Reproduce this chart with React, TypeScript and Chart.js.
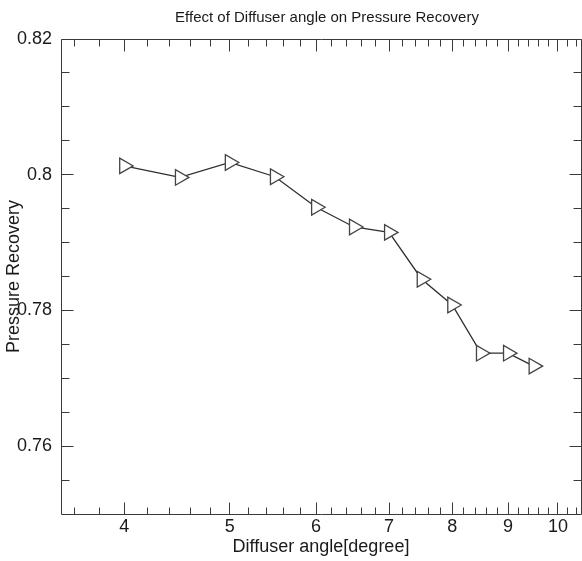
import React, { useEffect, useRef } from "react";
import { Chart, registerables } from "chart.js";

Chart.register(...registerables);

// ---- data ----
const diffuserAngle = [4, 4.5, 5, 5.5, 6, 6.5, 7, 7.5, 8, 8.5, 9, 9.5];
const pressureRecovery = [
  0.8013, 0.7996, 0.8018, 0.7997, 0.7952, 0.7923, 0.7915, 0.7846, 0.7808,
  0.7737, 0.7737, 0.7718,
];
const xMajorTicks = [4, 5, 6, 7, 8, 9, 10];
const xMinorTicks = [
  3.6, 3.8, 4.2, 4.4, 4.6, 4.8, 5.2, 5.4, 5.6, 5.8, 6.2, 6.4, 6.6, 6.8, 7.2,
  7.4, 7.6, 7.8, 8.2, 8.4, 8.6, 8.8, 9.2, 9.4, 9.6, 9.8, 10.2, 10.4,
];
const yMajorTicks = [0.76, 0.78, 0.8, 0.82];
const yMinorTicks = [
  0.755, 0.765, 0.77, 0.775, 0.785, 0.79, 0.795, 0.805, 0.81, 0.815,
];
const chartTitle = "Effect of Diffuser angle on Pressure Recovery";
const xTitle = "Diffuser angle[degree]";
const yTitle = "Pressure Recovery";

const FONT = '"Liberation Sans", Arial, Helvetica, sans-serif';
const TEXT = "#1a1a1a";
const AXIS = "#3a3a3a";

const frameTicksPlugin = {
  id: "frameTicks",
  afterDraw(chart: any) {
    const { ctx, chartArea } = chart;
    const { left, right, top, bottom } = chartArea;
    const xs = chart.scales.x;
    const ys = chart.scales.y;
    const L = Math.floor(left) + 0.5;
    const R = Math.floor(right) + 0.5;
    const T = Math.floor(top) + 0.5;
    const B = Math.floor(bottom) + 0.5;
    ctx.save();
    ctx.strokeStyle = AXIS;
    ctx.lineWidth = 1;
    ctx.beginPath();
    ctx.rect(L, T, R - L, B - T);
    const xTick = (v: number, len: number) => {
      const px = Math.floor(xs.getPixelForValue(v)) + 0.5;
      ctx.moveTo(px, B);
      ctx.lineTo(px, B - len);
      ctx.moveTo(px, T);
      ctx.lineTo(px, T + len);
    };
    const yTick = (v: number, len: number) => {
      const py = Math.floor(ys.getPixelForValue(v)) + 0.5;
      ctx.moveTo(L, py);
      ctx.lineTo(L + len, py);
      ctx.moveTo(R, py);
      ctx.lineTo(R - len, py);
    };
    xMajorTicks.forEach((v) => xTick(v, 12));
    xMinorTicks.forEach((v) => xTick(v, 7));
    yMajorTicks.forEach((v) => yTick(v, 12));
    yMinorTicks.forEach((v) => yTick(v, 8));
    ctx.stroke();

    // chart title
    ctx.fillStyle = TEXT;
    ctx.font = `15px ${FONT}`;
    ctx.textAlign = "center";
    ctx.textBaseline = "alphabetic";
    ctx.fillText(chartTitle, (left + right) / 2 + 6, 22);
    ctx.restore();
  },
};

export default function App() {
  const canvasRef = useRef<HTMLCanvasElement | null>(null);

  useEffect(() => {
    const canvas = canvasRef.current;
    if (!canvas) return;
    const chart = new Chart(canvas, {
      type: "line",
      data: {
        datasets: [
          {
            data: diffuserAngle.map((a, i) => ({ x: a, y: pressureRecovery[i] })),
            borderColor: "#2e2e2e",
            borderWidth: 1.3,
            pointStyle: "triangle",
            rotation: 90,
            pointRadius: 9,
            pointBorderWidth: 1.3,
            pointBorderColor: "#444444",
            pointBackgroundColor: "#ffffff",
            tension: 0,
            fill: false,
          },
        ],
      },
      options: {
        responsive: false,
        animation: false,
        devicePixelRatio: 1,
        layout: {
          autoPadding: false,
          padding: { top: 39, right: 1, left: 0, bottom: 0 },
        },
        plugins: {
          legend: { display: false },
          tooltip: { enabled: false },
          title: { display: false },
        },
        scales: {
          x: {
            type: "logarithmic",
            min: 3.5,
            max: 10.5,
            afterBuildTicks: (s: any) => {
              s.ticks = xMajorTicks.map((v) => ({ value: v }));
            },
            afterFit: (s: any) => {
              s.height = 47;
              s.paddingLeft = 0;
              s.paddingRight = 0;
            },
            grid: { display: false, drawTicks: false },
            border: { display: false },
            ticks: {
              autoSkip: false,
              maxRotation: 0,
              padding: 2,
              color: TEXT,
              font: { family: FONT, size: 18 },
              callback: (v: any) => String(v),
            },
            title: {
              display: true,
              text: xTitle,
              color: TEXT,
              font: { family: FONT, size: 18 },
              padding: { top: 0, bottom: 3 },
            },
          },
          y: {
            type: "linear",
            min: 0.75,
            max: 0.82,
            afterBuildTicks: (s: any) => {
              s.ticks = yMajorTicks.map((v) => ({ value: v }));
            },
            afterFit: (s: any) => {
              s.width = 61;
              s.paddingTop = 0;
              s.paddingBottom = 0;
            },
            grid: { display: false, drawTicks: false },
            border: { display: false },
            ticks: {
              padding: 9,
              color: TEXT,
              font: { family: FONT, size: 18 },
              callback: (v: any) => String(Number(Number(v).toFixed(3))),
            },
            title: {
              display: true,
              text: yTitle,
              color: TEXT,
              font: { family: FONT, size: 18 },
              padding: { top: 3, bottom: 0 },
            },
          },
        },
      },
      plugins: [frameTicksPlugin],
    } as any);
    return () => chart.destroy();
  }, []);

  return (
    <div
      style={{
        position: "absolute",
        left: 0,
        top: 0,
        width: 582,
        height: 561,
        background: "#ffffff",
      }}
    >
      <canvas ref={canvasRef} width={582} height={561} />
    </div>
  );
}
